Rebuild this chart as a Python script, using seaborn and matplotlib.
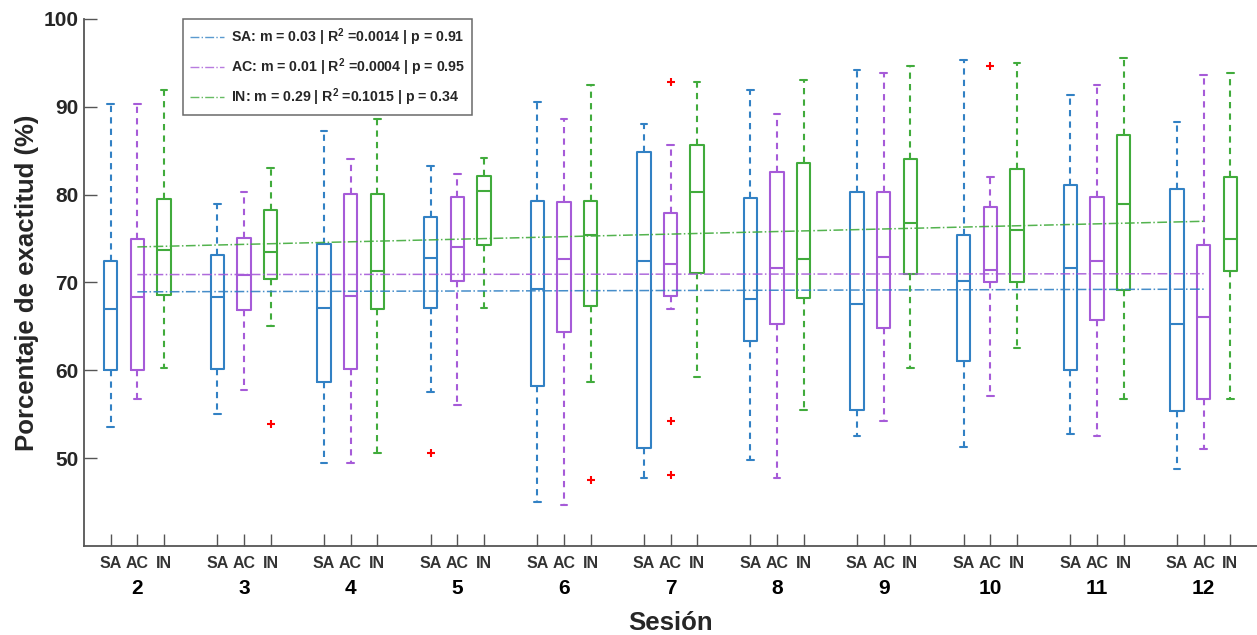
import seaborn as sns
import matplotlib.pyplot as plt
import matplotlib.lines as mlines
import pandas as pd
import numpy as np

# sesiones y grupos
sesiones = [2, 3, 4, 5, 6, 7, 8, 9, 10, 11, 12]
grupos = ["SA", "AC", "IN"]
colores = {"SA": "#3281c4", "AC": "#a65bd8", "IN": "#41ab3c"}

# resumen de cada caja: [bigote inf, Q1, mediana, Q3, bigote sup]
sa_box = [
    [53.6, 60.0, 67.0, 72.5, 90.3],
    [55.0, 60.2, 68.3, 73.1, 78.9],
    [49.5, 58.7, 67.05, 74.4, 87.2],
    [57.5, 67.05, 72.8, 77.5, 83.3],
    [45.0, 58.2, 69.3, 79.3, 90.5],
    [47.7, 51.2, 72.4, 84.85, 88.1],
    [49.8, 63.3, 68.1, 79.6, 91.9],
    [52.5, 55.5, 67.6, 80.3, 94.2],
    [51.25, 61.1, 70.15, 75.4, 95.3],
    [52.8, 60.0, 71.7, 81.1, 91.4],
    [48.75, 55.4, 65.3, 80.7, 88.3],
]
ac_box = [
    [56.7, 60.0, 68.4, 74.9, 90.3],
    [57.8, 66.9, 70.8, 75.1, 80.3],
    [49.5, 60.1, 68.5, 80.1, 84.1],
    [56.1, 70.15, 74.05, 79.7, 82.3],
    [44.7, 64.4, 72.65, 79.2, 88.6],
    [67.0, 68.45, 72.1, 77.9, 85.6],
    [47.7, 65.3, 71.7, 82.6, 89.2],
    [54.2, 64.8, 72.9, 80.3, 93.9],
    [57.1, 70.0, 71.4, 78.6, 81.97],
    [52.5, 65.7, 72.4, 79.7, 92.5],
    [51.1, 56.7, 66.1, 74.3, 93.6],
]
in_box = [
    [60.3, 68.6, 73.75, 79.5, 91.9],
    [65.0, 70.45, 73.5, 78.2, 83.0],
    [50.6, 67.0, 71.3, 80.1, 88.6],
    [67.05, 74.3, 80.4, 82.1, 84.2],
    [58.7, 67.35, 75.4, 79.3, 92.5],
    [59.2, 71.1, 80.3, 85.7, 92.8],
    [55.5, 68.2, 72.65, 83.6, 93.1],
    [60.3, 70.95, 76.8, 84.1, 94.7],
    [62.5, 70.05, 76.0, 82.9, 94.97],
    [56.7, 69.1, 78.9, 86.8, 95.6],
    [56.7, 71.3, 75.0, 82.05, 93.9],
]

# valores atipicos (sesion, grupo, valor)
out_sesion = [3, 5, 6, 7, 7, 7, 10]
out_grupo = ["IN", "SA", "IN", "AC", "AC", "AC", "AC"]
out_valor = [53.9, 50.6, 47.5, 92.8, 54.2, 48.1, 94.7]

# rectas de regresion: valor en sesion 2 y en sesion 12
fit_x = [2, 12]
sa_fit = [68.94, 69.24]
ac_fit = [70.9, 71.0]
in_fit = [74.05, 76.97]
leyendas = [
    "SA: m = 0.03 | R$^2$ =0.0014 | p = 0.91",
    "AC: m = 0.01 | R$^2$ =0.0004 | p = 0.95",
    "IN: m = 0.29 | R$^2$ =0.1015 | p = 0.34",
]

filas = []
for g, cajas in zip(grupos, [sa_box, ac_box, in_box]):
    for s, caja in zip(sesiones, cajas):
        for v in caja:
            filas.append({"sesion": s, "grupo": g, "valor": v})
df = pd.DataFrame(filas)

sns.set_style("ticks")
plt.rcParams["font.family"] = ["Liberation Sans", "DejaVu Sans"]
plt.rcParams["font.weight"] = "bold"
plt.rcParams["mathtext.fontset"] = "custom"
plt.rcParams["mathtext.rm"] = "Liberation Sans:bold"
plt.rcParams["mathtext.it"] = "Liberation Sans:bold"
plt.rcParams["mathtext.bf"] = "Liberation Sans:bold"

fig = plt.figure(figsize=(12.57, 6.35), dpi=100)
ax = fig.add_axes([84 / 1257, 89 / 635, 1 - 84 / 1257, 527 / 635])

sns.boxplot(data=df, x="sesion", y="valor", hue="grupo", hue_order=grupos,
            palette=colores, native_scale=True, fill=False, width=0.75,
            gap=0.5, whis=np.inf, linewidth=1.5, legend=False, ax=ax,
            whiskerprops={"linestyle": (0, (3, 2.5))})

# atipicos
desplaz = {"SA": -0.25, "AC": 0.0, "IN": 0.25}
ox = [s + desplaz[g] for s, g in zip(out_sesion, out_grupo)]
ax.scatter(ox, out_valor, marker="+", color="#ff0000", s=30, linewidths=1.5,
           zorder=5)

# regresiones
handles = []
for g, fit, lab in zip(grupos, [sa_fit, ac_fit, in_fit], leyendas):
    sns.lineplot(x=fit_x, y=fit, color=colores[g], linestyle="-.",
                 linewidth=1.1, ax=ax, alpha=0.9)
    handles.append(mlines.Line2D([], [], color=colores[g], linestyle="-.",
                                 linewidth=1.0, alpha=0.8, label=lab))

leg = ax.legend(handles=handles, loc="upper left",
                bbox_to_anchor=(0.084, 1.0), borderaxespad=0,
                fancybox=False, frameon=True, edgecolor="#444444",
                fontsize=10.2, labelspacing=0.6, handlelength=2.4,
                handletextpad=0.5, borderpad=0.5)
leg.get_frame().set_linewidth(1.1)

ax.set_xlim(1.5, 12.5)
ax.set_ylim(40, 100)
ax.set_yticks([50, 60, 70, 80, 90, 100])
ax.tick_params(axis="y", direction="in", length=9, width=1,
               color="#555555", labelsize=15, pad=4)

pos = [s + d for s in sesiones for d in (-0.25, 0.0, 0.25)]
ax.xaxis.remove_overlapping_locs = False
ax.set_xticks(pos)
ax.set_xticklabels(grupos * len(sesiones))
ax.tick_params(axis="x", which="major", direction="in", length=9, width=1,
               color="#555555", labelsize=11.5, labelcolor="#333333", pad=7)
ax.set_xticks(sesiones, minor=True)
ax.set_xticklabels([str(s) for s in sesiones], minor=True)
ax.tick_params(axis="x", which="minor", length=0, labelsize=15, pad=24,
               labelcolor="black")

sns.despine(ax=ax, top=True, right=True)
for sp in ["left", "bottom"]:
    ax.spines[sp].set_color("#555555")
    ax.spines[sp].set_linewidth(1.3)

ax.set_xlabel("Sesión", fontsize=18.5, fontweight="bold")
ax.xaxis.set_label_coords(0.5, -0.123)
ax.set_ylabel("Porcentaje de exactitud (%)", fontsize=18.5,
              fontweight="bold")
ax.yaxis.set_label_coords(-0.038, 0.5)

fig.savefig("out.png", dpi=100)
